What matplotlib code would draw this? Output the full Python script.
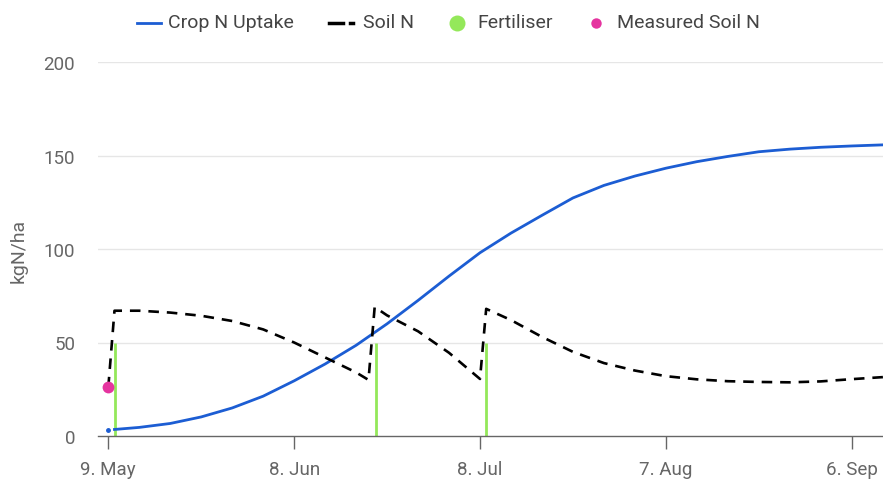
import matplotlib
matplotlib.use("Agg")
from matplotlib import pyplot as plt
from matplotlib.lines import Line2D

plt.rcParams['font.family'] = ['Roboto', 'DejaVu Sans']

# days after 9 May
crop_start_day = 0
crop_start_val = 3.2
crop_days = [1, 5, 10, 15, 20, 25, 30, 35, 40, 45, 50, 55, 60, 65, 70, 75, 80, 85,
             90, 95, 100, 105, 110, 115, 120, 126]
crop_uptake = [3.5, 4.6, 6.7, 10.2, 15.0, 21.3, 29.5, 38.5, 48.5, 60, 72.5, 85.5, 98,
               108.5, 118, 127.3, 134, 139, 143.2, 146.7, 149.5, 152, 153.4, 154.4, 155.1, 155.8]

soil_days = [0, 1, 5, 10, 15, 20, 25, 30, 35, 40, 42, 43, 45, 50, 55, 60, 61, 65, 70,
             75, 80, 85, 90, 95, 100, 105, 110, 115, 120, 126]
soil_n = [26, 67, 67, 66, 64.3, 61.5, 57, 50, 42, 34, 30, 69, 64.5, 56, 44.5, 30.5, 68,
          62, 53, 45, 39, 35, 32, 30.3, 29.3, 28.9, 28.7, 29.2, 30.4, 31.7]

fert_days = [1.1, 43.2, 61.0]
fert_amount = [50, 50, 50]

measured_days = [0]
measured_soil_n = [26]

tick_days = [0, 30, 60, 90, 120]
tick_labels = ["9. May", "8. Jun", "8. Jul", "7. Aug", "6. Sep"]

blue = '#1c5dd3'
green = '#94e85a'
pink = '#e5349f'
grey = '#666666'
W, H = 883, 485

fig = plt.figure(figsize=(8.83, 4.85), dpi=100)
ax = fig.add_axes([98 / W, 48 / H, 785 / W, 374 / H])

for y in [50, 100, 150, 200]:
    ax.axhline(y, color='#e6e6e6', lw=1, zorder=0)

ax.vlines(fert_days, 0, fert_amount, color=green, lw=2, zorder=2)
ax.plot(crop_days, crop_uptake, color=blue, lw=2, zorder=3)
ax.plot([crop_start_day], [crop_start_val], 'o', color=blue, ms=2.5, zorder=3)
ax.plot(soil_days, soil_n, color='black', lw=1.9, ls=(0, (4, 3)), zorder=4)
ax.plot(measured_days, measured_soil_n, 'o', color=pink, ms=8.5, mec='none', zorder=5)

ax.set_xlim(-1.66, 125.05)
ax.set_ylim(0, 200)
ax.set_yticks([0, 50, 100, 150, 200])
ax.set_xticks(tick_days)
ax.set_xticklabels(tick_labels)

for s in ['top', 'right', 'left']:
    ax.spines[s].set_visible(False)
ax.spines['bottom'].set_color(grey)
ax.spines['bottom'].set_linewidth(1)
ax.tick_params(axis='y', length=0, pad=16.5, labelsize=13.5, labelcolor=grey)
ax.tick_params(axis='x', length=9, width=1, color=grey, pad=8, labelsize=13.5, labelcolor=grey)
fig.text(18.5 / W, 1 - 251 / H, 'kgN/ha', rotation=90, ha='center', va='center',
         color=grey, fontsize=14)

# legend drawn by hand so the items sit where they do in the reference
def fx(px):
    return px / W

ly = 1 - 23.5 / H
fig.add_artist(Line2D([fx(137), fx(161)], [ly, ly], color=blue, lw=2))
fig.add_artist(Line2D([fx(329), fx(343)], [ly, ly], color='black', lw=2.5))
fig.add_artist(Line2D([fx(350), fx(353)], [ly, ly], color='black', lw=2.5))
fig.add_artist(Line2D([fx(456.7)], [ly], ls='none', marker='o', color=green, ms=11.5, mec='none'))
fig.add_artist(Line2D([fx(595.5)], [ly], ls='none', marker='o', color=pink, ms=7.5, mec='none'))
for x, s in [(168, 'Crop N Uptake'), (363, 'Soil N'), (477, 'Fertiliser'), (617, 'Measured Soil N')]:
    fig.text(fx(x), ly, s, ha='left', va='center', fontsize=14, color='#444444')

fig.savefig('out.png', dpi=100)
